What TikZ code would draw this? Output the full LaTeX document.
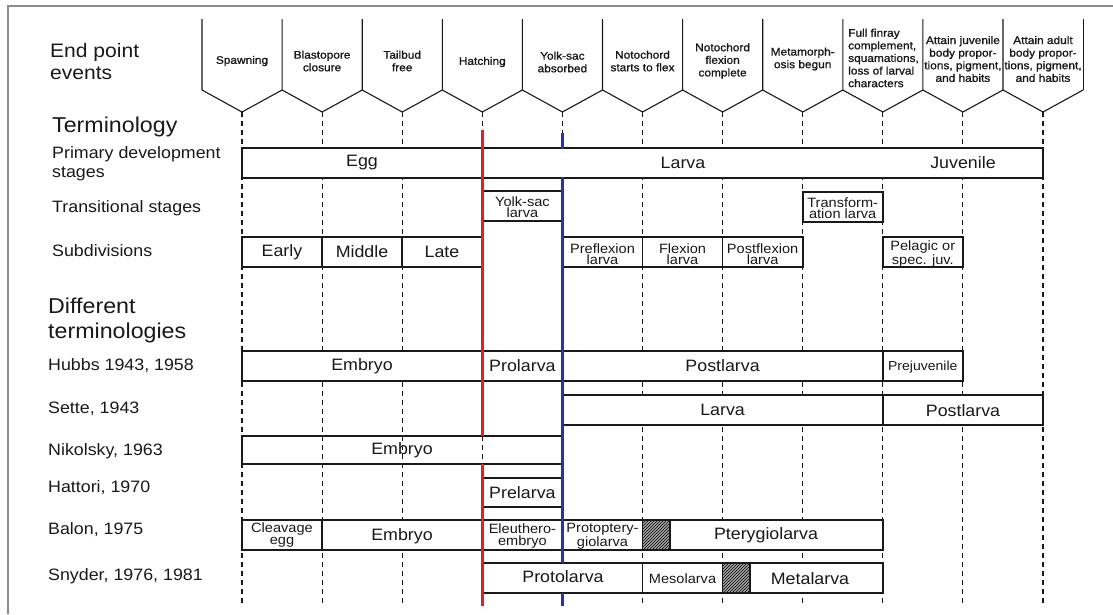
\documentclass[tikz,border=0pt]{standalone}
\usepackage{fontspec}
\setmainfont[FakeStretch=1.08]{Liberation Sans}
\newfontfamily\hdrfont[FakeStretch=1.08,FakeBold=1.2]{Liberation Sans}
\usetikzlibrary{patterns}
\definecolor{myred}{RGB}{232,28,36}
\definecolor{myblue}{RGB}{40,52,165}
\definecolor{ink}{RGB}{25,25,25}
\begin{document}
\begin{tikzpicture}[x=1pt,y=-1pt,
  frame/.style={draw=black!45, line width=1.3pt},
  hdr/.style={draw=ink, line width=1.1pt},
  col/.style={draw=ink, line width=1.1pt, dash pattern=on 5pt off 4pt},
  bar/.style={draw=ink, line width=1.6pt, fill=white},
  hatch/.style={draw=ink, line width=1.6pt, pattern=north east lines, pattern color=black},
  big/.style={font=\fontsize{16.5}{18}\selectfont, inner sep=0pt, text=ink},
  small/.style={font=\fontsize{13.5}{11.5}\selectfont, align=center, inner sep=0pt, text=ink},
  hdrtxt/.style={font=\hdrfont\fontsize{11}{12.6}\selectfont, align=center, inner sep=0pt, text=ink},
  lbl/.style={font=\fontsize{16.5}{19}\selectfont, anchor=west, align=left, inner sep=0pt, text=ink},
  head/.style={font=\fontsize{21.5}{25}\selectfont, anchor=west, align=left, inner sep=0pt, text=ink},
  redl/.style={draw=myred, line width=2.4pt},
  bluel/.style={draw=myblue, line width=2.4pt}]
\useasboundingbox (0,0) rectangle (1113,614);
\draw[frame] (1113,6) -- (8,6) -- (8,614);

% header pentagons and column lines
\foreach \i in {0,...,10} {
  \pgfmathsetmacro\xa{202+80.1*\i}
  \pgfmathsetmacro\xb{202+80.1*(\i+1)}
  \pgfmathsetmacro\xm{242+80.1*\i}
  \draw[hdr] (\xa,19) -- (\xa,90) -- (\xm,112) -- (\xb,90);
  \coordinate (t\i) at (\xm,112);
  \coordinate (e\i) at (\xm,604);
  \draw[col] (t\i) -- (e\i);
}
\draw[hdr] (1083.1,19) -- (1083.1,90);

% header texts
\node[hdrtxt] (h0) at (242,61) {Spawning};
\node[hdrtxt] (h1) at (322.1,61) {Blastopore\\closure};
\node[hdrtxt] (h2) at (402.2,61) {Tailbud\\free};
\node[hdrtxt] (h3) at (482.3,62) {Hatching};
\node[hdrtxt] (h4) at (562.4,62) {Yolk-sac\\absorbed};
\node[hdrtxt] (h5) at (642.5,61) {Notochord\\starts to flex};
\node[hdrtxt] (h6) at (722.6,61) {Notochord\\flexion\\complete};
\node[hdrtxt] (h7) at (802.7,59) {Metamorph-\\osis begun};
\node[hdrtxt, align=left, anchor=west] (h8) at (848,58) {Full finray\\complement,\\squamations,\\loss of larval\\characters};
\node[hdrtxt] (h9) at (962.9,59) {Attain juvenile\\body propor-\\tions, pigment,\\and habits};
\node[hdrtxt] (h10) at (1043,59) {Attain adult\\body propor-\\tions, pigment,\\and habits};

% left labels
\node[head, font=\fontsize{19.5}{22}\selectfont] (lEnd) at (50,62) {End point\\events};
\node[head] (lTerm) at (52,127) {Terminology};
\node[lbl] (lPrim) at (52,164) {Primary development\\stages};
\node[lbl] (lTrans) at (52,208) {Transitional stages};
\node[lbl] (lSub) at (52,251) {Subdivisions};
\node[head] (lDiff) at (48,320) {Different\\terminologies};
\node[lbl] (lHubbs) at (48,366) {Hubbs 1943, 1958};
\node[lbl] (lSette) at (48,409) {Sette, 1943};
\node[lbl] (lNik) at (48,451) {Nikolsky, 1963};
\node[lbl] (lHat) at (48,488) {Hattori, 1970};
\node[lbl] (lBal) at (48,530) {Balon, 1975};
\node[lbl] (lSny) at (48,576) {Snyder, 1976, 1981};

% boxes
\draw[bar] (242,148) rectangle (1043,178);
\draw[bar] (482.3,191) rectangle (562.4,221);
\draw[bar] (802.7,192) rectangle (882.8,222);
\draw[bar] (242,237) rectangle (322.1,267);
\draw[bar] (322.1,237) rectangle (402.2,267);
\draw[bar] (402.2,237) rectangle (482.3,267);
\draw[bar] (562.4,237) rectangle (642.5,267);
\draw[bar] (642.5,237) rectangle (722.6,267);
\draw[bar] (722.6,237) rectangle (802.7,267);
\draw[bar] (882.8,237) rectangle (962.9,267);
% Hubbs
\draw[bar] (242,351) rectangle (482.3,381);
\draw[bar] (482.3,351) rectangle (562.4,381);
\draw[bar] (562.4,351) rectangle (882.8,381);
\draw[bar] (882.8,351) rectangle (962.9,381);
% Sette
\draw[bar] (562.4,395) rectangle (882.8,425);
\draw[bar] (882.8,395) rectangle (1043,425);
% Nikolsky
\draw[bar, fill=none] (242,436) rectangle (562.4,464);
% Hattori
\draw[bar] (482.3,478) rectangle (562.4,507);
% Balon
\draw[bar] (242,520) rectangle (322.1,550);
\draw[bar] (322.1,520) rectangle (482.3,550);
\draw[bar] (482.3,520) rectangle (562.4,550);
\draw[bar] (562.4,520) rectangle (642.5,550);
\fill[black!35] (642.5,520) rectangle (670,550);
\draw[hatch] (642.5,520) rectangle (670,550);
\draw[bar] (670,520) rectangle (882.8,550);
% Snyder
\draw[bar] (482.3,563) rectangle (642.5,593);
\draw[bar] (642.5,563) rectangle (722.6,593);
\fill[black!35] (722.6,563) rectangle (750,593);
\draw[hatch] (722.6,563) rectangle (750,593);
\draw[bar] (750,563) rectangle (882.8,593);

% red and blue lines
\coordinate (rT) at (482.3,130);
\coordinate (rA) at (482.3,436);
\coordinate (rB) at (482.3,464);
\coordinate (rE) at (482.3,606);
\draw[redl] (rT) -- (rA);
\draw[redl] (rB) -- (rE);
\coordinate (bT) at (562.4,133);
\coordinate (bA) at (562.4,149);
\coordinate (bB) at (562.4,177);
\coordinate (bC) at (562.4,563);
\coordinate (bD) at (562.4,593);
\coordinate (bE) at (562.4,606);
\draw[bluel] (bT) -- (bA);
\draw[bluel] (bB) -- (bC);
\draw[bluel] (bD) -- (bE);

% box texts
\node[big] (egg) at (362,163) {Egg};
\node[big] (larva) at (683,163) {Larva};
\node[big] (juv) at (963,163) {Juvenile};
\node[small] (ysl) at (522.4,207) {Yolk-sac\\larva};
\node[small] (trl) at (842.7,208) {Transform-\\ation larva};
\node[big] (early) at (282,252) {Early};
\node[big] (middle) at (362,252) {Middle};
\node[big] (late) at (442,252) {Late};
\node[small] (pre) at (602.5,254) {Preflexion\\larva};
\node[small] (flex) at (682.5,254) {Flexion\\larva};
\node[small] (post) at (762.6,254) {Postflexion\\larva};
\node[small] (pel) at (922.8,254) {Pelagic or\\spec. juv.};
\node[big] (hEmb) at (362,366) {Embryo};
\node[big] (hPro) at (522.4,366) {Prolarva};
\node[big] (hPost) at (722.6,366) {Postlarva};
\node[small, font=\fontsize{13}{13}\selectfont] (hPrej) at (922.8,367) {Prejuvenile};
\node[big] (sLar) at (722.6,410) {Larva};
\node[big] (sPost) at (963,411) {Postlarva};
\node[big] (nEmb) at (402,450) {Embryo};
\node[big] (hatPre) at (522.4,492.5) {Prelarva};
\node[small] (bCl) at (282,535) {Cleavage\\egg};
\node[big] (bEmb) at (402,536) {Embryo};
\node[small] (bEl) at (522.4,536) {Eleuthero-\\embryo};
\node[small] (bProt) at (602.5,536) {Protoptery-\\giolarva};
\node[big] (bPter) at (766,535) {Pterygiolarva};
\node[big] (sProt) at (563,577) {Protolarva};
\node[small, font=\fontsize{13.5}{13.5}\selectfont] (sMes) at (682.5,579) {Mesolarva};
\node[big] (sMet) at (810,579) {Metalarva};
\end{tikzpicture}
\end{document}
